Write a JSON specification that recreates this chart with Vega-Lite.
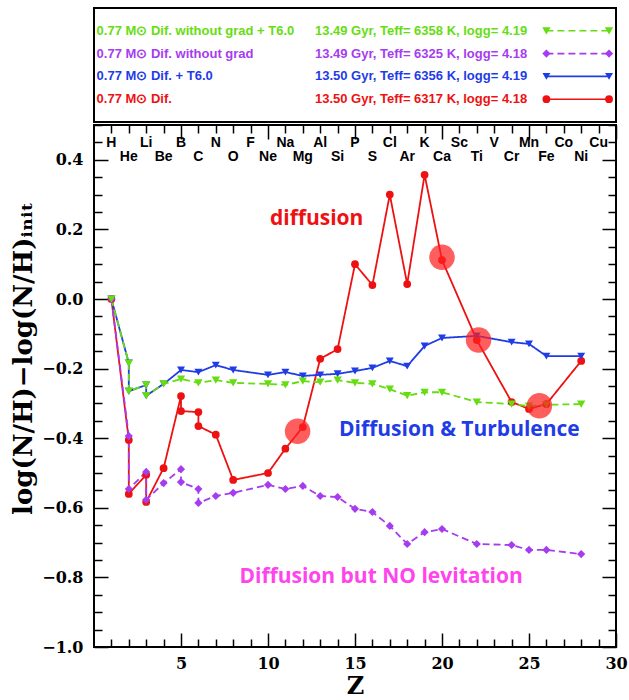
{
  "$schema": "https://vega.github.io/schema/vega-lite/v6.json",
  "background": "white",
  "padding": {"left": 9, "top": 7, "right": 5, "bottom": 0},
  "spacing": 0,
  "config": {
    "view": {"stroke": "black", "strokeWidth": 2},
    "concat": {"spacing": 0}
  },
  "datasets": {
    "pts": [
      {"series": "Dif", "ord": 1, "Z": 1, "v": 0.0},
      {"series": "Dif", "ord": 2, "Z": 2, "v": -0.405},
      {"series": "Dif", "ord": 3, "Z": 2, "v": -0.56},
      {"series": "Dif", "ord": 4, "Z": 3, "v": -0.505},
      {"series": "Dif", "ord": 5, "Z": 3, "v": -0.583},
      {"series": "Dif", "ord": 6, "Z": 4, "v": -0.486},
      {"series": "Dif", "ord": 7, "Z": 5, "v": -0.279},
      {"series": "Dif", "ord": 8, "Z": 5, "v": -0.322},
      {"series": "Dif", "ord": 9, "Z": 6, "v": -0.325},
      {"series": "Dif", "ord": 10, "Z": 6, "v": -0.365},
      {"series": "Dif", "ord": 11, "Z": 7, "v": -0.39},
      {"series": "Dif", "ord": 12, "Z": 8, "v": -0.52},
      {"series": "Dif", "ord": 13, "Z": 10, "v": -0.50},
      {"series": "Dif", "ord": 14, "Z": 11, "v": -0.43},
      {"series": "Dif", "ord": 15, "Z": 12, "v": -0.368},
      {"series": "Dif", "ord": 16, "Z": 13, "v": -0.172},
      {"series": "Dif", "ord": 17, "Z": 14, "v": -0.144},
      {"series": "Dif", "ord": 18, "Z": 15, "v": 0.10},
      {"series": "Dif", "ord": 19, "Z": 16, "v": 0.04},
      {"series": "Dif", "ord": 20, "Z": 17, "v": 0.30},
      {"series": "Dif", "ord": 21, "Z": 18, "v": 0.043},
      {"series": "Dif", "ord": 22, "Z": 19, "v": 0.357},
      {"series": "Dif", "ord": 23, "Z": 20, "v": 0.112},
      {"series": "Dif", "ord": 24, "Z": 22, "v": -0.118},
      {"series": "Dif", "ord": 25, "Z": 24, "v": -0.296},
      {"series": "Dif", "ord": 26, "Z": 25, "v": -0.316},
      {"series": "Dif", "ord": 27, "Z": 26, "v": -0.302},
      {"series": "Dif", "ord": 28, "Z": 28, "v": -0.178},

      {"series": "DifT", "ord": 1, "Z": 1, "v": 0.0},
      {"series": "DifT", "ord": 2, "Z": 2, "v": -0.184},
      {"series": "DifT", "ord": 3, "Z": 2, "v": -0.265},
      {"series": "DifT", "ord": 4, "Z": 3, "v": -0.247},
      {"series": "DifT", "ord": 5, "Z": 3, "v": -0.278},
      {"series": "DifT", "ord": 6, "Z": 4, "v": -0.244},
      {"series": "DifT", "ord": 7, "Z": 5, "v": -0.204},
      {"series": "DifT", "ord": 8, "Z": 6, "v": -0.21},
      {"series": "DifT", "ord": 9, "Z": 7, "v": -0.19},
      {"series": "DifT", "ord": 10, "Z": 8, "v": -0.204},
      {"series": "DifT", "ord": 11, "Z": 10, "v": -0.218},
      {"series": "DifT", "ord": 12, "Z": 11, "v": -0.21},
      {"series": "DifT", "ord": 13, "Z": 12, "v": -0.221},
      {"series": "DifT", "ord": 14, "Z": 13, "v": -0.218},
      {"series": "DifT", "ord": 15, "Z": 14, "v": -0.215},
      {"series": "DifT", "ord": 16, "Z": 15, "v": -0.207},
      {"series": "DifT", "ord": 17, "Z": 16, "v": -0.198},
      {"series": "DifT", "ord": 18, "Z": 17, "v": -0.178},
      {"series": "DifT", "ord": 19, "Z": 18, "v": -0.193},
      {"series": "DifT", "ord": 20, "Z": 19, "v": -0.135},
      {"series": "DifT", "ord": 21, "Z": 20, "v": -0.112},
      {"series": "DifT", "ord": 22, "Z": 22, "v": -0.106},
      {"series": "DifT", "ord": 23, "Z": 24, "v": -0.124},
      {"series": "DifT", "ord": 24, "Z": 25, "v": -0.129},
      {"series": "DifT", "ord": 25, "Z": 26, "v": -0.164},
      {"series": "DifT", "ord": 26, "Z": 28, "v": -0.164},

      {"series": "DifNoG", "ord": 1, "Z": 1, "v": 0.0},
      {"series": "DifNoG", "ord": 2, "Z": 2, "v": -0.394},
      {"series": "DifNoG", "ord": 3, "Z": 2, "v": -0.546},
      {"series": "DifNoG", "ord": 4, "Z": 3, "v": -0.497},
      {"series": "DifNoG", "ord": 5, "Z": 3, "v": -0.577},
      {"series": "DifNoG", "ord": 6, "Z": 4, "v": -0.529},
      {"series": "DifNoG", "ord": 7, "Z": 5, "v": -0.489},
      {"series": "DifNoG", "ord": 8, "Z": 5, "v": -0.526},
      {"series": "DifNoG", "ord": 9, "Z": 6, "v": -0.546},
      {"series": "DifNoG", "ord": 10, "Z": 6, "v": -0.586},
      {"series": "DifNoG", "ord": 11, "Z": 7, "v": -0.566},
      {"series": "DifNoG", "ord": 12, "Z": 8, "v": -0.557},
      {"series": "DifNoG", "ord": 13, "Z": 10, "v": -0.534},
      {"series": "DifNoG", "ord": 14, "Z": 11, "v": -0.546},
      {"series": "DifNoG", "ord": 15, "Z": 12, "v": -0.537},
      {"series": "DifNoG", "ord": 16, "Z": 13, "v": -0.566},
      {"series": "DifNoG", "ord": 17, "Z": 14, "v": -0.569},
      {"series": "DifNoG", "ord": 18, "Z": 15, "v": -0.603},
      {"series": "DifNoG", "ord": 19, "Z": 16, "v": -0.612},
      {"series": "DifNoG", "ord": 20, "Z": 17, "v": -0.652},
      {"series": "DifNoG", "ord": 21, "Z": 18, "v": -0.704},
      {"series": "DifNoG", "ord": 22, "Z": 19, "v": -0.670},
      {"series": "DifNoG", "ord": 23, "Z": 20, "v": -0.661},
      {"series": "DifNoG", "ord": 24, "Z": 22, "v": -0.704},
      {"series": "DifNoG", "ord": 25, "Z": 24, "v": -0.707},
      {"series": "DifNoG", "ord": 26, "Z": 25, "v": -0.721},
      {"series": "DifNoG", "ord": 27, "Z": 26, "v": -0.721},
      {"series": "DifNoG", "ord": 28, "Z": 28, "v": -0.733},

      {"series": "DifNoGT", "ord": 1, "Z": 1, "v": 0.0},
      {"series": "DifNoGT", "ord": 2, "Z": 2, "v": -0.184},
      {"series": "DifNoGT", "ord": 3, "Z": 2, "v": -0.265},
      {"series": "DifNoGT", "ord": 4, "Z": 3, "v": -0.247},
      {"series": "DifNoGT", "ord": 5, "Z": 3, "v": -0.278},
      {"series": "DifNoGT", "ord": 6, "Z": 4, "v": -0.244},
      {"series": "DifNoGT", "ord": 7, "Z": 5, "v": -0.23},
      {"series": "DifNoGT", "ord": 8, "Z": 6, "v": -0.241},
      {"series": "DifNoGT", "ord": 9, "Z": 7, "v": -0.233},
      {"series": "DifNoGT", "ord": 10, "Z": 8, "v": -0.241},
      {"series": "DifNoGT", "ord": 11, "Z": 10, "v": -0.244},
      {"series": "DifNoGT", "ord": 12, "Z": 11, "v": -0.247},
      {"series": "DifNoGT", "ord": 13, "Z": 12, "v": -0.236},
      {"series": "DifNoGT", "ord": 14, "Z": 13, "v": -0.239},
      {"series": "DifNoGT", "ord": 15, "Z": 14, "v": -0.233},
      {"series": "DifNoGT", "ord": 16, "Z": 15, "v": -0.241},
      {"series": "DifNoGT", "ord": 17, "Z": 16, "v": -0.244},
      {"series": "DifNoGT", "ord": 18, "Z": 17, "v": -0.259},
      {"series": "DifNoGT", "ord": 19, "Z": 18, "v": -0.278},
      {"series": "DifNoGT", "ord": 20, "Z": 19, "v": -0.268},
      {"series": "DifNoGT", "ord": 21, "Z": 20, "v": -0.268},
      {"series": "DifNoGT", "ord": 22, "Z": 22, "v": -0.296},
      {"series": "DifNoGT", "ord": 23, "Z": 24, "v": -0.302},
      {"series": "DifNoGT", "ord": 24, "Z": 25, "v": -0.308},
      {"series": "DifNoGT", "ord": 25, "Z": 26, "v": -0.304},
      {"series": "DifNoGT", "ord": 26, "Z": 28, "v": -0.302}
    ],
    "legend": [
      {"series": "DifNoGT", "row": 1, "t1": "0.77 M⊙ Dif. without grad + T6.0", "t2": "13.49 Gyr, Teff= 6358 K, logg= 4.19"},
      {"series": "DifNoG", "row": 2, "t1": "0.77 M⊙ Dif. without grad", "t2": "13.49 Gyr, Teff= 6325 K, logg= 4.18"},
      {"series": "DifT", "row": 3, "t1": "0.77 M⊙ Dif. + T6.0", "t2": "13.50 Gyr, Teff= 6356 K, logg= 4.19"},
      {"series": "Dif", "row": 4, "t1": "0.77 M⊙ Dif.", "t2": "13.50 Gyr, Teff= 6317 K, logg= 4.18"}
    ],
    "legsym": [
      {"series": "DifNoGT", "row": 1, "lx": 26.0},
      {"series": "DifNoGT", "row": 1, "lx": 29.6},
      {"series": "DifNoG", "row": 2, "lx": 26.0},
      {"series": "DifNoG", "row": 2, "lx": 29.6},
      {"series": "DifT", "row": 3, "lx": 26.0},
      {"series": "DifT", "row": 3, "lx": 29.6},
      {"series": "Dif", "row": 4, "lx": 26.0},
      {"series": "Dif", "row": 4, "lx": 29.6}
    ],
    "elements": [
      {"Z": 1, "el": "H"}, {"Z": 2, "el": "He"}, {"Z": 3, "el": "Li"}, {"Z": 4, "el": "Be"},
      {"Z": 5, "el": "B"}, {"Z": 6, "el": "C"}, {"Z": 7, "el": "N"}, {"Z": 8, "el": "O"},
      {"Z": 9, "el": "F"}, {"Z": 10, "el": "Ne"}, {"Z": 11, "el": "Na"}, {"Z": 12, "el": "Mg"},
      {"Z": 13, "el": "Al"}, {"Z": 14, "el": "Si"}, {"Z": 15, "el": "P"}, {"Z": 16, "el": "S"},
      {"Z": 17, "el": "Cl"}, {"Z": 18, "el": "Ar"}, {"Z": 19, "el": "K"}, {"Z": 20, "el": "Ca"},
      {"Z": 21, "el": "Sc"}, {"Z": 22, "el": "Ti"}, {"Z": 23, "el": "V"}, {"Z": 24, "el": "Cr"},
      {"Z": 25, "el": "Mn"}, {"Z": 26, "el": "Fe"}, {"Z": 27, "el": "Co"}, {"Z": 28, "el": "Ni"},
      {"Z": 29, "el": "Cu"}
    ],
    "hl": [
      {"Z": 11.7, "v": -0.38},
      {"Z": 20.0, "v": 0.12},
      {"Z": 22.1, "v": -0.118},
      {"Z": 25.6, "v": -0.307}
    ]
  },
  "vconcat": [
    {
      "width": 522,
      "height": 114,
      "layer": [
        {
          "data": {"name": "legend"},
          "mark": {"type": "text", "align": "left", "baseline": "middle", "font": "Liberation Sans", "fontWeight": "bold", "fontSize": 13},
          "encoding": {
            "x": {"datum": 0.15, "type": "quantitative", "scale": {"domain": [0, 30], "nice": false, "zero": false}, "axis": null},
            "y": {"field": "row", "type": "quantitative", "scale": {"domain": [0, 5], "reverse": true}, "axis": null},
            "text": {"field": "t1"},
            "color": {"field": "series", "type": "nominal", "scale": {"domain": ["Dif", "DifT", "DifNoG", "DifNoGT"], "range": ["#ee1111", "#1f3ce6", "#a63cf0", "#66dd11"]}, "legend": null}
          }
        },
        {
          "data": {"name": "legend"},
          "mark": {"type": "text", "align": "left", "baseline": "middle", "font": "Liberation Sans", "fontWeight": "bold", "fontSize": 13},
          "encoding": {
            "x": {"datum": 12.7, "type": "quantitative", "axis": null},
            "y": {"field": "row", "type": "quantitative", "axis": null},
            "text": {"field": "t2"},
            "color": {"field": "series", "type": "nominal", "legend": null}
          }
        },
        {
          "data": {"name": "legsym"},
          "mark": {"type": "line", "strokeWidth": 1.6},
          "encoding": {
            "x": {"field": "lx", "type": "quantitative", "axis": null},
            "y": {"field": "row", "type": "quantitative", "axis": null},
            "color": {"field": "series", "type": "nominal", "legend": null},
            "strokeDash": {"field": "series", "type": "nominal", "scale": {"domain": ["Dif", "DifT", "DifNoG", "DifNoGT"], "range": [[1, 0], [1, 0], [7, 4], [7, 4]]}, "legend": null}
          }
        },
        {
          "data": {"name": "legsym"},
          "mark": {"type": "point", "filled": true, "opacity": 1},
          "encoding": {
            "x": {"field": "lx", "type": "quantitative", "axis": null},
            "y": {"field": "row", "type": "quantitative", "axis": null},
            "color": {"field": "series", "type": "nominal", "legend": null},
            "shape": {"field": "series", "type": "nominal", "scale": {"domain": ["Dif", "DifT", "DifNoG", "DifNoGT"], "range": ["circle", "triangle-down", "diamond", "triangle-down"]}, "legend": null},
            "size": {"field": "series", "type": "nominal", "scale": {"domain": ["Dif", "DifT", "DifNoG", "DifNoGT"], "range": [60, 70, 60, 40]}, "legend": null}
          }
        }
      ]
    },
    {
      "width": 522,
      "height": 522,
      "resolve": {"axis": {"x": "independent", "y": "independent"}},
      "layer": [
        {
          "data": {"name": "pts"},
          "mark": {"type": "line", "strokeWidth": 1.8},
          "encoding": {
            "x": {
              "field": "Z", "type": "quantitative",
              "scale": {"domain": [0, 30], "nice": false, "zero": false},
              "axis": {
                "orient": "bottom",
                "values": [5, 10, 15, 20, 25, 30],
                "tickSize": -14,
                "tickColor": "black", "tickWidth": 1.5,
                "labelFlush": false,
                "labelFont": "DejaVu Serif", "labelFontWeight": "bold", "labelFontSize": 16, "labelColor": "black",
                "labelPadding": 22,
                "domain": false, "grid": false,
                "title": "Z", "titleFont": "DejaVu Serif", "titleFontWeight": "bold", "titleFontSize": 24, "titleColor": "black", "titlePadding": 3
              }
            },
            "y": {
              "field": "v", "type": "quantitative",
              "scale": {"domain": [-1.0, 0.5], "nice": false, "zero": false},
              "axis": {
                "orient": "left",
                "values": [-1.0, -0.8, -0.6, -0.4, -0.2, 0.0, 0.2, 0.4],
                "format": ".1f",
                "tickSize": -14,
                "tickColor": "black", "tickWidth": 1.5,
                "labelFont": "DejaVu Serif", "labelFontWeight": "bold", "labelFontSize": 16, "labelColor": "black",
                "labelPadding": 25,
                "domain": false, "grid": false,
                "title": "log(N/H)−log(N/H)ᵢₙᵢₜ", "titleFont": "DejaVu Serif", "titleFontWeight": "bold", "titleFontSize": 26, "titleColor": "black", "titlePadding": 5,
                "titleY": 233
              }
            },
            "color": {"field": "series", "type": "nominal", "legend": null},
            "strokeDash": {"field": "series", "type": "nominal", "legend": null},
            "order": {"field": "ord", "type": "quantitative"}
          }
        },
        {
          "data": {"name": "pts"},
          "mark": {"type": "point", "filled": true, "opacity": 1},
          "encoding": {
            "x": {
              "field": "Z", "type": "quantitative",
              "axis": {
                "orient": "bottom",
                "values": [1,2,3,4,6,7,8,9,11,12,13,14,16,17,18,19,21,22,23,24,26,27,28,29],
                "tickSize": -8, "tickColor": "black", "tickWidth": 1.5,
                "labels": false, "domain": false, "grid": false, "title": null
              }
            },
            "y": {
              "field": "v", "type": "quantitative",
              "axis": {
                "orient": "left",
                "values": [-0.95,-0.9,-0.85,-0.75,-0.7,-0.65,-0.55,-0.5,-0.45,-0.35,-0.3,-0.25,-0.15,-0.1,-0.05,0.05,0.1,0.15,0.25,0.3,0.35,0.45,0.5],
                "tickSize": -8, "tickColor": "black", "tickWidth": 1.5,
                "labels": false, "domain": false, "grid": false, "title": null
              }
            },
            "color": {"field": "series", "type": "nominal", "legend": null},
            "shape": {"field": "series", "type": "nominal", "legend": null},
            "size": {"field": "series", "type": "nominal", "legend": null}
          }
        },
        {
          "data": {"name": "hl"},
          "mark": {"type": "point", "filled": true, "shape": "circle", "size": 650, "color": "#ff2020", "opacity": 0.72},
          "encoding": {
            "x": {"field": "Z", "type": "quantitative", "axis": null},
            "y": {"field": "v", "type": "quantitative", "axis": null}
          }
        },
        {
          "data": {"values": [{"note": "diffusion", "Z": 12.8, "v": 0.23}]},
          "mark": {"type": "text", "font": "Open Sans", "fontWeight": "bold", "fontSize": 21, "color": "#ee1111", "align": "center", "baseline": "middle"},
          "encoding": {
            "x": {"field": "Z", "type": "quantitative", "axis": null},
            "y": {"field": "v", "type": "quantitative", "axis": null},
            "text": {"field": "note"}
          }
        },
        {
          "data": {"values": [{"note": "Diffusion & Turbulence", "Z": 21.0, "v": -0.376}]},
          "mark": {"type": "text", "font": "Open Sans", "fontWeight": "bold", "fontSize": 21, "color": "#1f3ce6", "align": "center", "baseline": "middle"},
          "encoding": {
            "x": {"field": "Z", "type": "quantitative", "axis": null},
            "y": {"field": "v", "type": "quantitative", "axis": null},
            "text": {"field": "note"}
          }
        },
        {
          "data": {"values": [{"note": "Diffusion but NO levitation", "Z": 16.5, "v": -0.80}]},
          "mark": {"type": "text", "font": "Open Sans", "fontWeight": "bold", "fontSize": 21, "color": "#ff44ee", "align": "center", "baseline": "middle"},
          "encoding": {
            "x": {"field": "Z", "type": "quantitative", "axis": null},
            "y": {"field": "v", "type": "quantitative", "axis": null},
            "text": {"field": "note"}
          }
        },
        {
          "data": {"name": "elements"},
          "transform": [{"filter": "datum.Z % 2 === 1"}],
          "mark": {"type": "text", "font": "Liberation Sans", "fontWeight": "bold", "fontSize": 14, "color": "black", "align": "center", "baseline": "middle"},
          "encoding": {
            "x": {
              "field": "Z", "type": "quantitative",
              "axis": {
                "orient": "top",
                "values": [5, 10, 15, 20, 25, 30],
                "tickSize": -14, "tickColor": "black", "tickWidth": 1.5,
                "labels": false, "domain": false, "grid": false, "title": null
              }
            },
            "y": {
              "datum": 0.447, "type": "quantitative",
              "axis": {
                "orient": "right",
                "values": [-1.0, -0.8, -0.6, -0.4, -0.2, 0.0, 0.2, 0.4],
                "tickSize": -14, "tickColor": "black", "tickWidth": 1.5,
                "labels": false, "domain": false, "grid": false, "title": null
              }
            },
            "text": {"field": "el"}
          }
        },
        {
          "data": {"name": "elements"},
          "transform": [{"filter": "datum.Z % 2 === 0"}],
          "mark": {"type": "text", "font": "Liberation Sans", "fontWeight": "bold", "fontSize": 14, "color": "black", "align": "center", "baseline": "middle"},
          "encoding": {
            "x": {
              "field": "Z", "type": "quantitative",
              "axis": {
                "orient": "top",
                "values": [1,2,3,4,6,7,8,9,11,12,13,14,16,17,18,19,21,22,23,24,26,27,28,29],
                "tickSize": -8, "tickColor": "black", "tickWidth": 1.5,
                "labels": false, "domain": false, "grid": false, "title": null
              }
            },
            "y": {
              "datum": 0.408, "type": "quantitative",
              "axis": {
                "orient": "right",
                "values": [-0.95,-0.9,-0.85,-0.75,-0.7,-0.65,-0.55,-0.5,-0.45,-0.35,-0.3,-0.25,-0.15,-0.1,-0.05,0.05,0.1,0.15,0.25,0.3,0.35,0.45,0.5],
                "tickSize": -8, "tickColor": "black", "tickWidth": 1.5,
                "labels": false, "domain": false, "grid": false, "title": null
              }
            },
            "text": {"field": "el"}
          }
        }
      ]
    }
  ]
}
